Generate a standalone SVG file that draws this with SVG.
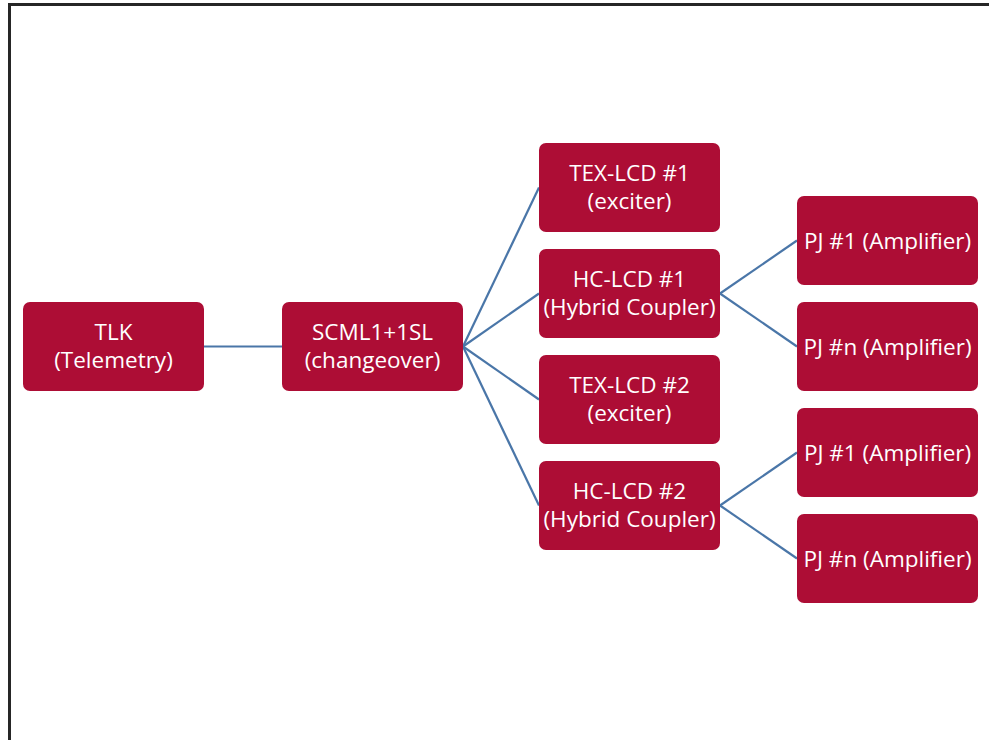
<svg xmlns="http://www.w3.org/2000/svg" width="989" height="740" viewBox="0 0 989 740">
<style>
.n rect{fill:#AD0D35;}
.n text{fill:#FFFFFF;font-family:"Open Sans","Noto Sans",sans-serif;font-size:22.5px;text-anchor:middle;}
.c line{stroke:#4A76A8;stroke-width:2.2;fill:none;}
</style>
<rect width="989" height="740" fill="#FFFFFF"/>
<path d="M9.5,740 V4.5 H989" fill="none" stroke="#262626" stroke-width="3"/>
<g class="c" id="connectors">
<line x1="204" y1="346.5" x2="282" y2="346.5"/>
<line x1="463" y1="346.5" x2="539" y2="187.5"/>
<line x1="463" y1="346.5" x2="539" y2="293.5"/>
<line x1="463" y1="346.5" x2="539" y2="399.5"/>
<line x1="463" y1="346.5" x2="539" y2="505.5"/>
<line x1="720" y1="293.5" x2="797" y2="240.5"/>
<line x1="720" y1="293.5" x2="797" y2="346.5"/>
<line x1="720" y1="505.5" x2="797" y2="452.5"/>
<line x1="720" y1="505.5" x2="797" y2="558.5"/>
</g>
<g class="n" id="tlk"><rect x="23" y="302" width="181" height="89" rx="7"/><text x="113.5" y="339.5">TLK</text><text x="113.5" y="368">(Telemetry)</text></g>
<g class="n" id="scml"><rect x="282" y="302" width="181" height="89" rx="7"/><text x="372.5" y="339.5">SCML1+1SL</text><text x="372.5" y="368">(changeover)</text></g>
<g class="n" id="tex1"><rect x="539" y="143" width="181" height="89" rx="7"/><text x="629.5" y="180.5">TEX-LCD #1</text><text x="629.5" y="209">(exciter)</text></g>
<g class="n" id="hc1"><rect x="539" y="249" width="181" height="89" rx="7"/><text x="629.5" y="286.5">HC-LCD #1</text><text x="629.5" y="315">(Hybrid Coupler)</text></g>
<g class="n" id="tex2"><rect x="539" y="355" width="181" height="89" rx="7"/><text x="629.5" y="392.5">TEX-LCD #2</text><text x="629.5" y="421">(exciter)</text></g>
<g class="n" id="hc2"><rect x="539" y="461" width="181" height="89" rx="7"/><text x="629.5" y="498.5">HC-LCD #2</text><text x="629.5" y="527">(Hybrid Coupler)</text></g>
<g class="n" id="pj1a"><rect x="797" y="196" width="181" height="89" rx="7"/><text x="887.5" y="248.5">PJ #1 (Amplifier)</text></g>
<g class="n" id="pjna"><rect x="797" y="302" width="181" height="89" rx="7"/><text x="887.5" y="354.5">PJ #n (Amplifier)</text></g>
<g class="n" id="pj1b"><rect x="797" y="408" width="181" height="89" rx="7"/><text x="887.5" y="460.5">PJ #1 (Amplifier)</text></g>
<g class="n" id="pjnb"><rect x="797" y="514" width="181" height="89" rx="7"/><text x="887.5" y="566.5">PJ #n (Amplifier)</text></g>
</svg>
